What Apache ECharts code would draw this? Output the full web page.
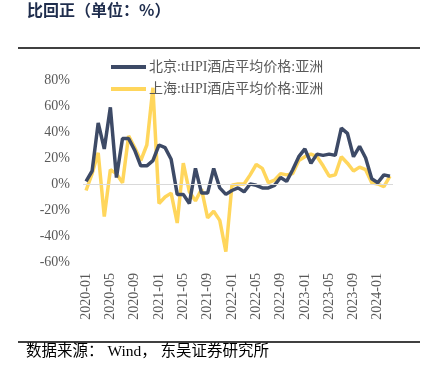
<!DOCTYPE html>
<html><head><meta charset="utf-8">
<script src="https://cdn.jsdelivr.net/npm/echarts@6/dist/echarts.min.js"></script>
<style>html,body{margin:0;padding:0;background:#fff;}#c{width:431px;height:379px;}</style>
</head><body><div id="c"></div>
<script>
const months = [];
for (let y = 2020; y <= 2024; y++) for (let m = 1; m <= 12; m++) { if (y === 2024 && m > 3) break; months.push(y + '-' + String(m).padStart(2, '0')); }
const beijing = [2,10,47,27,59,5,35,35,26,14,14,18,30,28,19,-8,-8,-15,12,-7,-7,12,-3,-8,-5,-3,-6,0,-1,-3,-3,-1,5,2,11,21,27,16,23,22,23,22,43,39,21,29,20,4,1,7,6];
const shanghai = [-5,8,24,-25,11,8,1,37,28,18,30,74,-15,-10,-7,-30,16,-6,-13,-4,-26,-21,-28,-52,-1,0,0,7,15,12,1,3,8,7,8,18,21,23,21,14,6,7,21,16,10,13,11,1,0,-2,6];
const seriesNames = ['北京:tHPI酒店平均价格:亚洲', '上海:tHPI酒店平均价格:亚洲'];
const titleText = '比回正（单位：%）';
const sourceText = '数据来源： Wind， 东吴证券研究所';

const serif = '"Liberation Serif","Times New Roman","Noto Sans CJK SC",serif';
const chart = echarts.init(document.getElementById('c'));
chart.setOption({
  animation: false,
  title: { text: titleText, left: 22, top: -3, textStyle: { fontSize: 16, fontWeight: 'bold', color: '#1f2d4d', fontFamily: '"Noto Sans CJK SC",sans-serif' } },
  legend: {
    orient: 'vertical', top: 55, left: 106, itemWidth: 35, itemHeight: 4, itemGap: 8,
    icon: 'rect',
    textStyle: { color: '#595959', fontSize: 14, fontFamily: serif, padding: [0,0,0,-2] },
    data: seriesNames
  },
  grid: { left: 83, right: 38, top: 80, bottom: 117 },
  xAxis: {
    type: 'category', data: months, boundaryGap: true,
    axisLine: { show: false }, axisTick: { show: false },
    axisLabel: { rotate: 90, interval: 3, color: '#595959', fontSize: 14, fontFamily: serif, margin: 11 }
  },
  yAxis: {
    type: 'value', min: -60, max: 80, interval: 20,
    axisLine: { show: false }, axisTick: { show: false }, splitLine: { show: false },
    axisLabel: { formatter: '{value}%', color: '#595959', fontSize: 14, fontFamily: serif, margin: 13 }
  },
  series: [
    { name: seriesNames[0], type: 'line', data: beijing, symbol: 'none', lineStyle: { width: 3.5, color: '#3d4a66' }, itemStyle: { color: '#3d4a66' },
      markLine: { silent: true, symbol: 'none', label: { show: false }, lineStyle: { color: '#d9d9d9', width: 1, type: 'solid' }, data: [{ yAxis: 0 }] }, z: 3 },
    { name: seriesNames[1], type: 'line', data: shanghai, symbol: 'none', lineStyle: { width: 3.5, color: '#ffd65c' }, itemStyle: { color: '#ffd65c' }, z: 2 }
  ],
  graphic: [
    { type: 'line', shape: { x1: 18, y1: 48, x2: 420, y2: 48 }, style: { stroke: '#000', lineWidth: 1.5 } },
    { type: 'line', shape: { x1: 18, y1: 342, x2: 420, y2: 342 }, style: { stroke: '#000', lineWidth: 1.5 } },
    { type: 'text', left: 26, top: 344, style: { text: sourceText, fill: '#000', fontSize: 15.5, fontFamily: serif } }
  ]
});
</script></body></html>
